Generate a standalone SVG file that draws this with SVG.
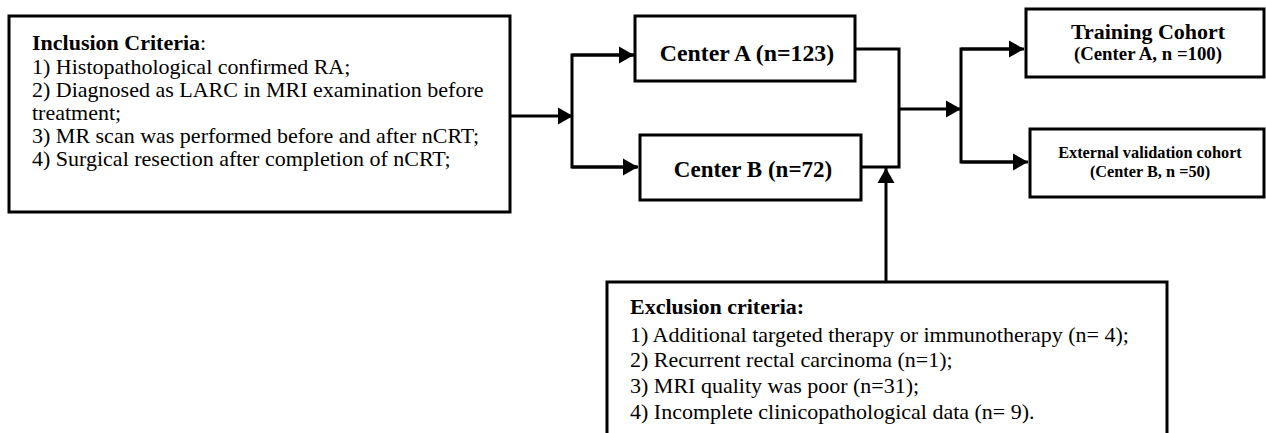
<svg xmlns="http://www.w3.org/2000/svg" width="1266" height="433" viewBox="0 0 1266 433">
  <defs>
    <marker id="ah" markerUnits="userSpaceOnUse" markerWidth="16" markerHeight="18" refX="15" refY="8.5" orient="auto" overflow="visible">
      <path d="M0,0 L15,8.5 L0,17 z" fill="#000"/>
    </marker>
    <style>
      .box { fill: #fff; stroke: #000; stroke-width: 3; }
      .ln { fill: none; stroke: #000; stroke-width: 3; }
      .arr { fill: none; stroke: #000; stroke-width: 3; marker-end: url(#ah); }
      .t { font-family: 'Liberation Serif', 'Times New Roman', serif; fill: #000; }
      .reg { font-size: 22px; }
      .b { font-weight: bold; }
    </style>
  </defs>
  <rect width="1266" height="433" fill="#fff"/>

  <g id="connectors">
    <line class="arr" x1="510" y1="116" x2="573" y2="116"/>
    <polyline class="ln" points="634,55 572,55 572,167 637,167"/>
    <line class="arr" x1="572" y1="55" x2="634" y2="55"/>
    <line class="arr" x1="572" y1="167" x2="638" y2="167"/>
    <polyline class="ln" points="855,49 899,49 899,167 861,167"/>
    <line class="arr" x1="899" y1="109" x2="961" y2="109"/>
    <polyline class="ln" points="1022,49 961,49 961,162 1024,162"/>
    <line class="arr" x1="961" y1="49" x2="1024" y2="49"/>
    <line class="arr" x1="961" y1="162" x2="1028" y2="162"/>
    <line class="arr" x1="886" y1="282" x2="886" y2="168"/>
  </g>

  <g id="inclusion">
    <rect class="box" x="9" y="16" width="501" height="196"/>
    <text class="t reg" x="32" y="50"><tspan class="b">Inclusion Criteria</tspan>:</text>
    <text class="t reg" x="32" y="74">1) Histopathological confirmed RA;</text>
    <text class="t reg" x="32" y="97">2) Diagnosed as LARC in MRI examination before</text>
    <text class="t reg" x="32" y="120">treatment;</text>
    <text class="t reg" x="32" y="143">3) MR scan was performed before and after nCRT;</text>
    <text class="t reg" x="32" y="166">4) Surgical resection after completion of nCRT;</text>
  </g>

  <g id="centerA">
    <rect class="box" x="635" y="16" width="220" height="65"/>
    <text class="t b" x="747" y="61" font-size="23.8" text-anchor="middle">Center A (n=123)</text>
  </g>

  <g id="centerB">
    <rect class="box" x="640" y="135" width="221" height="65"/>
    <text class="t b" x="753" y="177" font-size="23" text-anchor="middle">Center B (n=72)</text>
  </g>

  <g id="training">
    <rect class="box" x="1026" y="9" width="238" height="68"/>
    <text class="t b" x="1148" y="39" font-size="22" text-anchor="middle">Training Cohort</text>
    <text class="t b" x="1148" y="60" font-size="18.8" text-anchor="middle">(Center A, n =100)</text>
  </g>

  <g id="external">
    <rect class="box" x="1030" y="129" width="234" height="68"/>
    <text class="t b" x="1150" y="158" font-size="16.3" text-anchor="middle">External validation cohort</text>
    <text class="t b" x="1150" y="177" font-size="16.3" text-anchor="middle">(Center B, n =50)</text>
  </g>

  <g id="exclusion">
    <rect class="box" x="607" y="282" width="560" height="200"/>
    <text class="t reg b" x="630" y="314">Exclusion criteria:</text>
    <text class="t reg" x="630" y="342">1) Additional targeted therapy or immunotherapy (n= 4);</text>
    <text class="t reg" x="630" y="367">2) Recurrent rectal carcinoma (n=1);</text>
    <text class="t reg" x="630" y="393">3) MRI quality was poor (n=31);</text>
    <text class="t reg" x="630" y="419">4) Incomplete clinicopathological data (n= 9).</text>
  </g>
</svg>
